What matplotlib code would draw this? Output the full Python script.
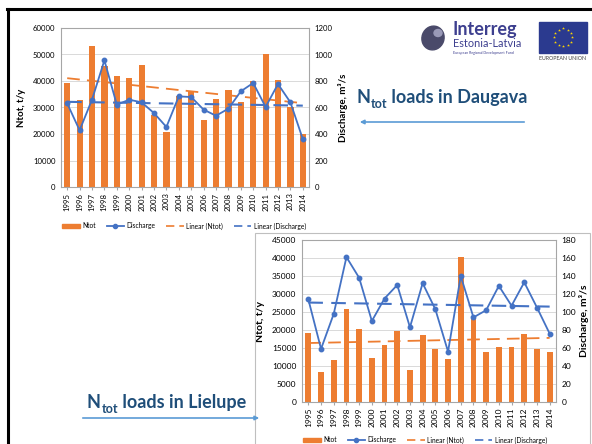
import numpy as np
import matplotlib
matplotlib.use("Agg")
import matplotlib.pyplot as plt
from matplotlib.lines import Line2D
from matplotlib.patches import Patch, Rectangle, Ellipse, FancyArrowPatch

plt.rcParams['font.family'] = ['Lato', 'DejaVu Sans']

years = [str(y) for y in range(1995, 2015)]

daugava_ntot = [39200, 33000, 53300, 45500, 41900, 41000, 45900, 27000, 20900, 34500,
                36300, 25400, 33300, 36700, 32000, 40100, 50200, 40500, 30200, 20100]
daugava_q = [631, 428, 659, 956, 621, 659, 639, 558, 453, 684,
             679, 584, 538, 591, 722, 785, 604, 777, 639, 362]

lielupe_ntot = [19200, 8300, 11600, 25700, 20300, 12300, 15900, 19600, 8800, 18500,
                14600, 11900, 40300, 23000, 13800, 15200, 15300, 19000, 14600, 14000]
lielupe_q = [114, 59, 98, 161, 138, 90, 115, 130, 83, 132,
             103, 56, 140, 94, 102, 129, 107, 133, 105, 76]

ORANGE = '#ED7D31'
BLUE = '#4472C4'
GRID = '#D9D9D9'
TITLE = '#1F4E79'
ARROW = '#5B9BD5'

W, H = 592, 444
fig = plt.figure(figsize=(W / 100, H / 100), dpi=100)
fig.patch.set_facecolor('white')


def fx(x):
    return x / W


def fy(y):
    return 1 - y / H


def rect(l, t, r, b):
    return [fx(l), fy(b), (r - l) / W, (b - t) / H]


# slide frame lines
fig.add_artist(Line2D([fx(7), fx(592)], [fy(9), fy(9)], color='black', lw=2.2))
fig.add_artist(Line2D([fx(8), fx(8)], [fy(9), fy(444)], color='black', lw=2.2))
# lower chart box
fig.add_artist(Rectangle((fx(255), fy(460)), (590 - 255) / W, (460 - 233) / H,
                         fill=False, edgecolor='#BFBFBF', lw=0.8))


def draw_chart(pos, ntot, q, ymax, ystep, qmax, qstep, fs, lw_bar=0.5):
    ax = fig.add_axes(pos)
    x = np.arange(len(years))
    ax.bar(x, ntot, width=lw_bar, color=ORANGE, zorder=2)
    ax.set_ylim(0, ymax)
    ax.set_xlim(-0.5, len(years) - 0.5)
    ax.set_yticks(np.arange(0, ymax + 1, ystep))
    ax.set_yticklabels([str(int(v)) for v in np.arange(0, ymax + 1, ystep)], fontsize=fs)
    ax.set_xticks(x)
    ax.set_xticklabels(years, rotation=90, fontsize=fs)
    ax.grid(axis='y', color=GRID, lw=0.7, zorder=0)
    ax.set_axisbelow(True)
    for s in ax.spines.values():
        s.set_color('#A6A6A6')
        s.set_linewidth(0.8)
    ax.tick_params(axis='y', length=0, pad=4)
    ax.tick_params(axis='x', length=2, color='#A6A6A6', pad=2)
    c = np.polyfit(x + 1, ntot, 1)
    ax.plot(x, np.polyval(c, x + 1), color=ORANGE, lw=1.3, dashes=(7, 4), zorder=3)

    ax2 = ax.twinx()
    ax2.set_ylim(0, qmax)
    ax2.set_yticks(np.arange(0, qmax + 1, qstep))
    ax2.set_yticklabels([str(int(v)) for v in np.arange(0, qmax + 1, qstep)], fontsize=fs)
    ax2.tick_params(axis='y', length=0, pad=4)
    for s in ax2.spines.values():
        s.set_visible(False)
    cq = np.polyfit(x + 1, q, 1)
    ax2.plot(x, np.polyval(cq, x + 1), color=BLUE, lw=1.5, dashes=(7, 4), zorder=3)
    ax2.plot(x, q, color=BLUE, lw=1.3, marker='o', ms=3.2, zorder=4)
    return ax, ax2


ax1, ax1b = draw_chart(rect(61, 28, 309, 187), daugava_ntot, daugava_q,
                       60000, 10000, 1200, 200, 5.6, 0.5)
ax1.set_ylabel('Ntot, t/y', fontsize=7, fontweight='bold', labelpad=5)
ax1b.set_ylabel('Discharge, m³/s', fontsize=7, fontweight='bold', labelpad=4)

ax2, ax2b = draw_chart(rect(302, 240, 556, 402), lielupe_ntot, lielupe_q,
                       45000, 5000, 180, 20, 6, 0.45)
ax2.set_ylabel('Ntot, t/y', fontsize=7.5, fontweight='bold', labelpad=5)
ax2b.set_ylabel('Discharge, m³/s', fontsize=7.5, fontweight='bold', labelpad=2)

handles = [Patch(color=ORANGE),
           Line2D([], [], color=BLUE, lw=1.3, marker='o', ms=3),
           Line2D([], [], color=ORANGE, lw=1.2, dashes=(5, 3)),
           Line2D([], [], color=BLUE, lw=1.2, dashes=(5, 3))]
labels = ['Ntot', 'Discharge', 'Linear (Ntot)', 'Linear (Discharge)']
fig.legend(handles, labels, loc='center', bbox_to_anchor=(fx(184), fy(226)), ncol=4,
           frameon=False, fontsize=4.8, handlelength=2.6, columnspacing=1.6,
           handletextpad=0.4)
fig.legend(handles, labels, loc='center', bbox_to_anchor=(fx(425), fy(440)), ncol=4,
           frameon=False, fontsize=4.8, handlelength=2.6, columnspacing=1.6,
           handletextpad=0.4)


def title(x, y, rest):
    renderer = fig.canvas.get_renderer()
    t1 = fig.text(fx(x), fy(y), 'N', fontsize=13, fontweight='bold', color=TITLE,
                  va='baseline', ha='left')
    bb = t1.get_window_extent(renderer)
    t2 = fig.text(bb.x1 / fig.bbox.width + 0.001, fy(y + 5), 'tot', fontsize=9,
                  fontweight='bold', color=TITLE, va='baseline', ha='left')
    bb2 = t2.get_window_extent(renderer)
    fig.text(bb2.x1 / fig.bbox.width, fy(y), ' ' + rest, fontsize=13,
             fontweight='bold', color=TITLE, va='baseline', ha='left')


title(356, 103, 'loads in Daugava')
title(87, 408, 'loads in Lielupe')

fig.add_artist(FancyArrowPatch((fx(527), fy(122)), (fx(357), fy(122)),
                               transform=fig.transFigure, arrowstyle='-|>',
                               mutation_scale=6, color=ARROW, lw=1.2))
fig.add_artist(FancyArrowPatch((fx(80), fy(418)), (fx(262), fy(418)),
                               transform=fig.transFigure, arrowstyle='-|>',
                               mutation_scale=6, color=ARROW, lw=1.2))

# logos
logo = fig.add_axes(rect(410, 18, 592, 64))
logo.set_xlim(410, 592)
logo.set_ylim(64, 18)
logo.axis('off')
logo.add_patch(Ellipse((433, 38), 22, 24, angle=20, color='#4A4A6A'))
logo.add_patch(Ellipse((438, 33), 8, 7, color='#9A9AB8'))
logo.text(453, 35, 'Interreg', fontsize=13, fontweight='bold', color='#3D3F8F',
          va='baseline')
logo.text(453, 47, 'Estonia-Latvia', fontsize=7.8, color='#3D3F8F', va='baseline')
logo.text(453, 54, 'European Regional Development Fund', fontsize=2.6,
          color='#3D3F8F', va='baseline')
logo.add_patch(Rectangle((539, 22), 48, 31, color='#2B3A8F'))
for k in range(12):
    a = 2 * np.pi * k / 12
    logo.plot(563 + 9 * np.cos(a), 37.5 + 9 * np.sin(a), marker='*', ms=2.2,
              color='#FFD700', mec='none')
logo.text(563, 60, 'EUROPEAN UNION', fontsize=3.8, color='#404040', ha='center',
          va='baseline')

fig.savefig('out.png', dpi=100)
